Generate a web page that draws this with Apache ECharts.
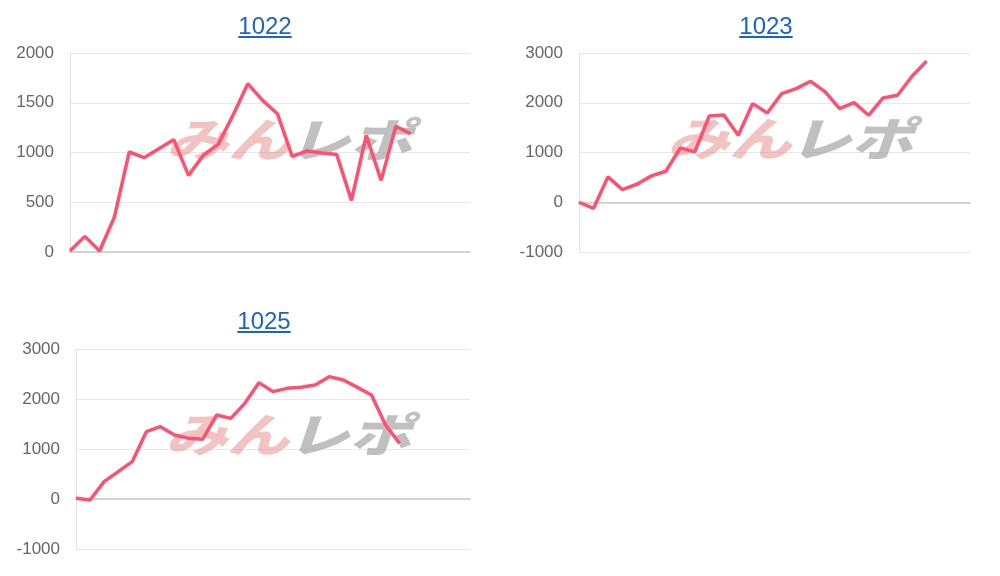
<!DOCTYPE html>
<html>
<head>
<meta charset="utf-8">
<script src="https://cdn.jsdelivr.net/npm/echarts@6/dist/echarts.min.js"></script>
<style>
  html, body { margin: 0; padding: 0; background: #ffffff; }
  #main { position: absolute; left: 0; top: 0; width: 1000px; height: 576px; }
  .ttl {
    position: absolute;
    font-family: "Liberation Sans", Arial, sans-serif;
    font-size: 24px;
    color: #1a64c8;
    text-decoration: underline;
    transform: translateX(-50%);
    line-height: 1;
  }
</style>
</head>
<body>
<div id="main"></div>
<a class="ttl" href="#" style="left:265px; top:14px;">1022</a>
<a class="ttl" href="#" style="left:766px; top:14px;">1023</a>
<a class="ttl" href="#" style="left:264px; top:309px;">1025</a>
<script>
// 1022
const data1022 = [10, 157, 10, 352, 1005, 948, 1038, 1129, 770, 971, 1082, 1373, 1692, 1524,
  1390, 961, 1015, 995, 981, 519, 1172, 720, 1263, 1189];
// 1023
const data1023 = [0, -125, 510, 255, 362, 530, 623, 1092, 1011, 1735, 1755, 1346, 1983, 1795,
  2184, 2284, 2431, 2217, 1882, 2003, 1748, 2097, 2150, 2532, 2833];
// 1025
const data1025 = [15, -20, 347, 547, 747, 1347, 1447, 1280, 1213, 1193, 1680, 1613, 1913, 2327,
  2147, 2213, 2233, 2280, 2447, 2380, 2233, 2080, 1480, 1113];

const cats28 = Array.from({length: 28}, (_, i) => String(i + 1));
const cats29 = Array.from({length: 29}, (_, i) => String(i + 1));

const lineColor = `#ff5070`;
const chart = echarts.init(document.getElementById(`main`));

function yAxisOf(gridIndex, min, max) {
  return {
    gridIndex: gridIndex,
    type: `value`,
    min: min,
    max: max,
    interval: gridIndex === 0 ? 500 : 1000,
    axisLine: { show: true, lineStyle: { color: `#e2e2e2` } },
    axisTick: { show: false },
    axisLabel: {
      color: `#666`, fontSize: 17, margin: 16, fontFamily: `Liberation Sans, Arial`,
      formatter: (v) => String(v)
    },
    splitLine: { lineStyle: { color: `#e8e8e8` } }
  };
}
function xAxisOf(gridIndex, cats) {
  return {
    gridIndex: gridIndex,
    type: `category`,
    boundaryGap: false,
    data: cats,
    axisLine: { onZero: true, lineStyle: { color: `#c8c8c8`, width: 1.5 } },
    axisTick: { show: false },
    axisLabel: { show: false },
    splitLine: { show: false }
  };
}
function seriesOf(idx, data) {
  return {
    type: `line`,
    xAxisIndex: idx,
    yAxisIndex: idx,
    data: data,
    showSymbol: false,
    symbol: `none`,
    lineStyle: { color: lineColor, width: 3.5 },
    z: 5,
    animation: false
  };
}
// watermark "みんレポ"
function mark(cx, cy) {
  return [
    {
      type: `text`, x: cx - 62, y: cy, z: 1, scaleX: 1.35,
      style: { text: `みん`, font: `italic 900 46px "Noto Sans CJK JP"`, fill: `rgba(228,120,120,0.45)`,
        align: `center`, verticalAlign: `middle` }
    },
    {
      type: `text`, x: cx + 60, y: cy, z: 1, scaleX: 1.35,
      style: { text: `レポ`, font: `italic 900 46px "Noto Sans CJK JP"`, fill: `rgba(150,150,150,0.6)`,
        align: `center`, verticalAlign: `middle` }
    }
  ];
}

let option;
option = {
  animation: false,
  grid: [
    { left: 70, top: 53, width: 400, height: 199 },
    { left: 579, top: 53, width: 391, height: 199 },
    { left: 76, top: 349, width: 394, height: 200 }
  ],
  xAxis: [xAxisOf(0, cats28), xAxisOf(1, cats28), xAxisOf(2, cats29)],
  yAxis: [yAxisOf(0, 0, 2000), yAxisOf(1, -1000, 3000), yAxisOf(2, -1000, 3000)],
  series: [seriesOf(0, data1022), seriesOf(1, data1023), seriesOf(2, data1025)],
  graphic: [].concat(mark(290, 140), mark(791, 139), mark(289, 435))
};
option && chart.setOption(option);
</script>
</body>
</html>
